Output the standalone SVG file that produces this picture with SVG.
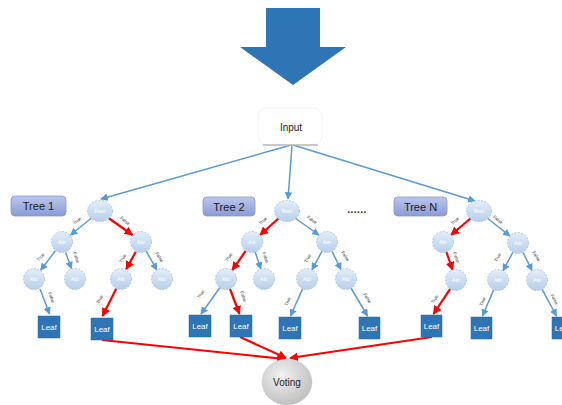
<svg xmlns="http://www.w3.org/2000/svg" width="562" height="405" viewBox="0 0 562 405">
<defs>
<linearGradient id="gNode" x1="0" y1="0" x2="0" y2="1"><stop offset="0" stop-color="#e3edf8"/><stop offset="1" stop-color="#b7cfea"/></linearGradient>
<linearGradient id="gTree" x1="0" y1="0" x2="0" y2="1"><stop offset="0" stop-color="#bcc7ec"/><stop offset="1" stop-color="#8a9bd6"/></linearGradient>
<radialGradient id="gVote" cx="0.4" cy="0.35" r="0.7"><stop offset="0" stop-color="#f2f2f2"/><stop offset="1" stop-color="#bdbdbd"/></radialGradient>
<marker id="mb" viewBox="0 0 10 10" refX="9" refY="5" markerWidth="5" markerHeight="5" orient="auto"><path d="M0,0 L10,5 L0,10 z" fill="#5b9bd5"/></marker>
<marker id="mr" viewBox="0 0 10 10" refX="9" refY="5" markerWidth="4" markerHeight="4" orient="auto"><path d="M0,0 L10,5 L0,10 z" fill="#ff0000"/></marker>
</defs>
<style>
.n{fill:url(#gNode);stroke:#9dbde3;stroke-width:0.8;stroke-dasharray:2 1.5}
.nt{font-family:"Liberation Sans",Arial,sans-serif;font-size:5px;fill:#ffffff;text-anchor:middle}
.leaf{fill:#2e75b6;stroke:#2a6aa5;stroke-width:0.5}
.lt{font-family:"Liberation Sans",Arial,sans-serif;font-size:8px;fill:#ffffff;text-anchor:middle}
.tb{fill:url(#gTree);stroke:#8797cf;stroke-width:0.8}
.tt{font-family:"Liberation Sans",Arial,sans-serif;font-size:11px;fill:#1a1a1a;text-anchor:middle}
.b{stroke:#5b9bd5;stroke-width:1.5;fill:none;marker-end:url(#mb)}
.r{stroke:#ff0000;stroke-width:2.2;fill:none;marker-end:url(#mr)}
.el{font-family:"Liberation Sans",Arial,sans-serif;font-size:4.5px;fill:#333333;text-anchor:middle}
</style>
<rect width="562" height="405" fill="#ffffff"/>
<polygon id="bigArrow" points="266,8 320,8 320,47 346,47 293,85 240,47 266,47" fill="#2e75b6"/>

<g id="connectors">
<line class="b" x1="291" y1="145" x2="101" y2="199"/>
<line class="b" x1="292" y1="145" x2="288" y2="199"/>
<line class="b" x1="293" y1="145" x2="475" y2="201"/>
<!-- Tree 1 -->
<line class="b" x1="91.5" y1="218" x2="70.5" y2="235"/>
<line class="r" x1="108.5" y1="218" x2="132.5" y2="235"/>
<line class="b" x1="55.4" y1="250.8" x2="40.6" y2="270.2"/>
<line class="b" x1="65.6" y1="252.4" x2="71.4" y2="268.6"/>
<line class="r" x1="135.8" y1="251.7" x2="126.2" y2="269.3"/>
<line class="b" x1="146.2" y1="251.1" x2="156.8" y2="269.9"/>
<line class="b" x1="40" y1="289" x2="49.5" y2="314"/>
<line class="r" x1="116.3" y1="288.4" x2="102.5" y2="316"/>
<!-- Tree 2 -->
<line class="r" x1="279" y1="218" x2="260" y2="235"/>
<line class="b" x1="295" y1="218" x2="319" y2="235"/>
<line class="r" x1="245.7" y1="251" x2="232.3" y2="270"/>
<line class="b" x1="255.2" y1="252" x2="260.8" y2="269"/>
<line class="b" x1="322" y1="251.2" x2="312" y2="269.8"/>
<line class="b" x1="332" y1="251.3" x2="341" y2="269.7"/>
<line class="b" x1="220" y1="287.5" x2="201" y2="314"/>
<line class="r" x1="230" y1="289" x2="239.5" y2="314"/>
<line class="b" x1="302.7" y1="288.6" x2="290.5" y2="316"/>
<line class="b" x1="351" y1="288" x2="367.5" y2="316"/>
<!-- Tree N -->
<line class="r" x1="471" y1="218" x2="451" y2="235"/>
<line class="b" x1="487" y1="218" x2="510" y2="236"/>
<line class="r" x1="446.4" y1="252" x2="452.6" y2="270"/>
<line class="b" x1="513" y1="252" x2="503" y2="270.8"/>
<line class="b" x1="523" y1="252.3" x2="532" y2="270.7"/>
<line class="r" x1="450.2" y1="288.8" x2="433.5" y2="314"/>
<line class="b" x1="493.8" y1="289.6" x2="482.5" y2="316"/>
<line class="b" x1="542" y1="289.2" x2="556.5" y2="316"/>
<!-- to voting -->
<line class="r" x1="102" y1="340" x2="285" y2="359"/>
<line class="r" x1="240" y1="337" x2="286" y2="358"/>
<line class="r" x1="432" y1="337" x2="290" y2="358"/>
</g>

<g id="edgeLabels">
<text class="el" transform="translate(78,222) rotate(-38)">True</text>
<text class="el" transform="translate(124,222) rotate(38)">False</text>
<text class="el" transform="translate(42,258) rotate(-50)">True</text>
<text class="el" transform="translate(75,258) rotate(70)">False</text>
<text class="el" transform="translate(124,259) rotate(-60)">True</text>
<text class="el" transform="translate(158,258) rotate(60)">False</text>
<text class="el" transform="translate(50,298) rotate(68)">False</text>
<text class="el" transform="translate(101,300) rotate(-63)">True</text>
<text class="el" transform="translate(264,222) rotate(-40)">True</text>
<text class="el" transform="translate(311,221) rotate(36)">False</text>
<text class="el" transform="translate(230,258) rotate(-55)">True</text>
<text class="el" transform="translate(264,258) rotate(72)">False</text>
<text class="el" transform="translate(309,259) rotate(-62)">True</text>
<text class="el" transform="translate(344,257) rotate(60)">False</text>
<text class="el" transform="translate(202,295) rotate(-55)">True</text>
<text class="el" transform="translate(242,297) rotate(70)">False</text>
<text class="el" transform="translate(289,302) rotate(-66)">True</text>
<text class="el" transform="translate(366,299) rotate(60)">False</text>
<text class="el" transform="translate(456,222) rotate(-40)">True</text>
<text class="el" transform="translate(497,221) rotate(38)">False</text>
<text class="el" transform="translate(455,258) rotate(70)">False</text>
<text class="el" transform="translate(499,258) rotate(-62)">True</text>
<text class="el" transform="translate(535,257) rotate(60)">False</text>
<text class="el" transform="translate(436,300) rotate(-57)">True</text>
<text class="el" transform="translate(484,302) rotate(-66)">True</text>
<text class="el" transform="translate(553,300) rotate(62)">False</text>
</g>

<g id="input">
<rect x="258" y="108" width="64" height="37" rx="9" fill="#ffffff" stroke="#f0f0f0" stroke-width="0.8"/>
<line x1="263" y1="145" x2="318" y2="145" stroke="#9a9a9a" stroke-width="1.2"/>
<text x="291" y="131" font-family="'Liberation Sans',Arial,sans-serif" font-size="10" fill="#222222" text-anchor="middle">Input</text>
</g>

<g id="tree1Label"><rect class="tb" x="11" y="196" width="55" height="20" rx="4"/><text class="tt" x="38.5" y="210">Tree 1</text></g>
<g id="tree2Label"><rect class="tb" x="203" y="197" width="52" height="19" rx="4"/><text class="tt" x="229" y="210.5">Tree 2</text></g>
<g id="treeNLabel"><rect class="tb" x="394" y="197" width="53" height="19" rx="4"/><text class="tt" x="420.5" y="210.5">Tree N</text></g>
<g id="dots"><text x="357" y="213" font-family="'Liberation Sans',Arial,sans-serif" font-size="10" font-weight="bold" fill="#222222" text-anchor="middle" letter-spacing="0.5">......</text></g>

<!-- Tree 1 nodes -->
<g id="t1root"><ellipse class="n" cx="100" cy="211" rx="12.5" ry="10.5"/><text class="nt" x="100" y="213">Root</text></g>
<g id="t1L"><circle class="n" cx="62" cy="242" r="10.5"/><text class="nt" x="62" y="244">Attr</text></g>
<g id="t1R"><circle class="n" cx="141" cy="242" r="10.5"/><text class="nt" x="141" y="244">Attr</text></g>
<g id="t1LL"><circle class="n" cx="34" cy="279" r="10.5"/><text class="nt" x="34" y="281">Attr</text></g>
<g id="t1LR"><circle class="n" cx="75" cy="279" r="10.5"/><text class="nt" x="75" y="281">Attr</text></g>
<g id="t1RL"><circle class="n" cx="121" cy="279" r="10.5"/><text class="nt" x="121" y="281">Attr</text></g>
<g id="t1RR"><circle class="n" cx="162" cy="279" r="10.5"/><text class="nt" x="162" y="281">Attr</text></g>
<g id="t1leaf1"><rect class="leaf" x="38" y="316" width="22" height="22"/><text class="lt" x="49" y="330">Leaf</text></g>
<g id="t1leaf2"><rect class="leaf" x="91" y="318" width="22" height="22"/><text class="lt" x="102" y="332">Leaf</text></g>

<!-- Tree 2 nodes -->
<g id="t2root"><ellipse class="n" cx="287" cy="211" rx="12.5" ry="10.5"/><text class="nt" x="287" y="213">Root</text></g>
<g id="t2L"><circle class="n" cx="252" cy="242" r="10.5"/><text class="nt" x="252" y="244">Attr</text></g>
<g id="t2R"><circle class="n" cx="327" cy="242" r="10.5"/><text class="nt" x="327" y="244">Attr</text></g>
<g id="t2LL"><circle class="n" cx="226" cy="279" r="10.5"/><text class="nt" x="226" y="281">Attr</text></g>
<g id="t2LR"><circle class="n" cx="264" cy="279" r="10.5"/><text class="nt" x="264" y="281">Attr</text></g>
<g id="t2RL"><circle class="n" cx="307" cy="279" r="10.5"/><text class="nt" x="307" y="281">Attr</text></g>
<g id="t2RR"><circle class="n" cx="346" cy="279" r="10.5"/><text class="nt" x="346" y="281">Attr</text></g>
<g id="t2leaf1"><rect class="leaf" x="189" y="315" width="22" height="22"/><text class="lt" x="200" y="329">Leaf</text></g>
<g id="t2leaf2"><rect class="leaf" x="230" y="315" width="22" height="22"/><text class="lt" x="241" y="329">Leaf</text></g>
<g id="t2leaf3"><rect class="leaf" x="279" y="317" width="22" height="22"/><text class="lt" x="290" y="331">Leaf</text></g>
<g id="t2leaf4"><rect class="leaf" x="359" y="317" width="21" height="22"/><text class="lt" x="369.5" y="331">Leaf</text></g>

<!-- Tree N nodes -->
<g id="tNroot"><ellipse class="n" cx="479" cy="211" rx="12.5" ry="10.5"/><text class="nt" x="479" y="213">Root</text></g>
<g id="tNL"><circle class="n" cx="443" cy="242" r="10.5"/><text class="nt" x="443" y="244">Attr</text></g>
<g id="tNR"><circle class="n" cx="518" cy="243" r="10.5"/><text class="nt" x="518" y="245">Attr</text></g>
<g id="tNL3"><circle class="n" cx="456" cy="280" r="10.5"/><text class="nt" x="456" y="282">Attr</text></g>
<g id="tNRL"><circle class="n" cx="498" cy="280" r="10.5"/><text class="nt" x="498" y="282">Attr</text></g>
<g id="tNRR"><circle class="n" cx="537" cy="280" r="10.5"/><text class="nt" x="537" y="282">Attr</text></g>
<g id="tNleaf1"><rect class="leaf" x="421" y="315" width="21" height="22"/><text class="lt" x="431.5" y="329">Leaf</text></g>
<g id="tNleaf2"><rect class="leaf" x="471" y="317" width="21" height="22"/><text class="lt" x="481.5" y="331">Leaf</text></g>
<g id="tNleaf3"><rect class="leaf" x="552" y="317" width="21" height="22"/><text class="lt" x="562.5" y="331">Leaf</text></g>

<g id="voting"><ellipse cx="287" cy="382" rx="25" ry="23" fill="url(#gVote)" stroke="#c8c8c8" stroke-width="0.5"/><text x="287" y="385.5" font-family="'Liberation Sans',Arial,sans-serif" font-size="10" fill="#222222" text-anchor="middle">Voting</text></g>
</svg>
